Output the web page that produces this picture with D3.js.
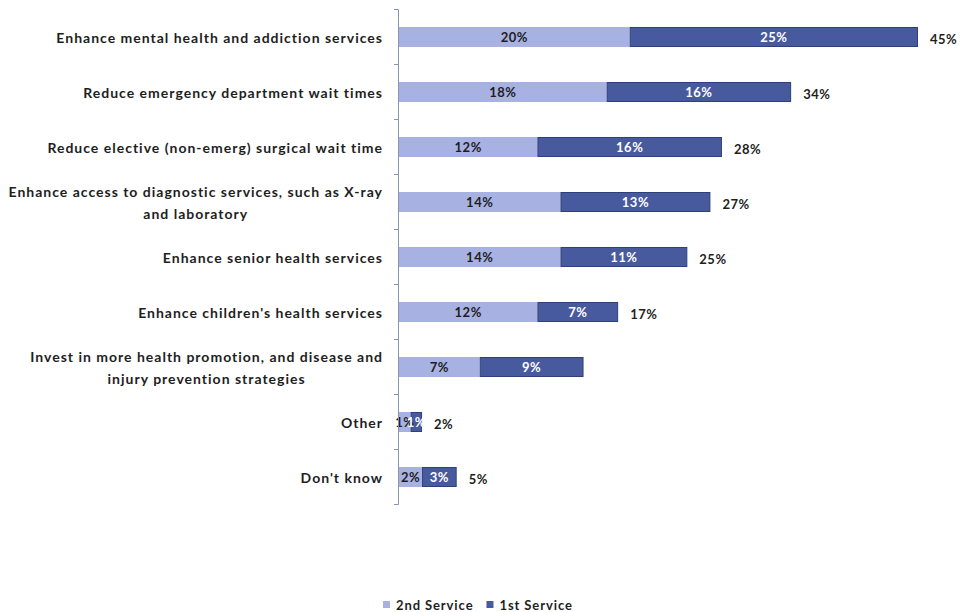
<!DOCTYPE html>
<html>
<head>
<meta charset="utf-8">
<script src="https://cdn.jsdelivr.net/npm/d3@7"></script>
<style>
  html, body { margin: 0; padding: 0; background: #fff; }
  svg { display: block; font-family: Lato, "Open Sans", sans-serif; }
</style>
</head>
<body>
<svg id="chart" width="960" height="612"></svg>
<script>
// Priority health services: share naming each as 2nd and 1st choice (%)
const categories = [
  ["Enhance mental health and addiction services"],
  ["Reduce emergency department wait times"],
  ["Reduce elective (non-emerg) surgical wait time"],
  ["Enhance access to diagnostic services, such as X-ray", "and laboratory"],
  ["Enhance senior health services"],
  ["Enhance children's health services"],
  ["Invest in more health promotion, and disease and", "injury prevention strategies"],
  ["Other"],
  ["Don't know"]
];
const secondService = [20, 18, 12, 14, 14, 12, 7, 1, 2];
const firstService  = [25, 16, 16, 13, 11, 7, 9, 1, 3];
const totals        = [45, 34, 28, 27, 25, 17, null, 2, 5];
const seriesNames   = ["2nd Service", "1st Service"];

const colors = { second: "#a7b1e2", first: "#485a9e", firstEdge: "#2f3f7c", text: "#1e1e1e" };

const svg = d3.select("#chart");
const x0 = 399;

const x = d3.scaleLinear().domain([0, 45]).range([x0, 918]);
const y = d3.scaleBand()
  .domain(d3.range(categories.length))
  .range([9.5, 9.5 + 55 * categories.length])
  .paddingInner(35 / 55)
  .paddingOuter(35 / 110);

const rows = categories.map((c, i) => ({
  i, label: c, a: secondService[i], b: firstService[i], total: totals[i]
}));

// Light segments (2nd Service)
svg.append("g").selectAll("rect").data(rows).join("rect")
  .attr("x", d => x(0))
  .attr("y", d => y(d.i))
  .attr("width", d => x(d.a) - x(0))
  .attr("height", y.bandwidth())
  .attr("fill", colors.second);

// Dark segments (1st Service)
svg.append("g").selectAll("rect").data(rows).join("rect")
  .attr("x", d => x(d.a) + 0.5)
  .attr("y", d => y(d.i) + 0.5)
  .attr("width", d => x(d.a + d.b) - x(d.a) - 1)
  .attr("height", y.bandwidth() - 1)
  .attr("fill", colors.first)
  .attr("stroke", colors.firstEdge)
  .attr("stroke-width", 1);

const cy = d => y(d.i) + y.bandwidth() / 2;

// Segment value labels
const seg = svg.append("g").attr("font-size", 13).attr("font-weight", 700)
  .attr("letter-spacing", 0.5)
  .attr("text-anchor", "middle").attr("dominant-baseline", "central");
seg.selectAll("text.a").data(rows).join("text").attr("class", "a")
  .attr("x", d => (x(0) + x(d.a)) / 2)
  .attr("y", cy)
  .attr("fill", colors.text)
  .text(d => d.a + "%");
seg.selectAll("text.b").data(rows).join("text").attr("class", "b")
  .attr("x", d => (x(d.a) + x(d.a + d.b)) / 2)
  .attr("y", cy)
  .attr("fill", "#fff")
  .text(d => d.b + "%");

// Totals to the right of each bar
svg.append("g").attr("font-size", 13).attr("font-weight", 700)
  .attr("letter-spacing", 0.5)
  .attr("dominant-baseline", "central").attr("fill", colors.text)
  .selectAll("text").data(rows.filter(d => d.total != null)).join("text")
  .attr("x", d => x(d.a + d.b) + 12)
  .attr("y", d => cy(d) + 2)
  .text(d => d.total + "%");

// Category axis line with ticks between bands
const axis = svg.append("g").attr("stroke", "#8b93ad").attr("stroke-width", 1);
axis.append("line")
  .attr("x1", x0 - 0.5).attr("x2", x0 - 0.5)
  .attr("y1", y.range()[0]).attr("y2", y.range()[1]);
axis.selectAll("line.tick").data(d3.range(categories.length + 1)).join("line")
  .attr("class", "tick")
  .attr("x1", x0 - 5).attr("x2", x0 - 0.5)
  .attr("y1", k => y.range()[0] + y.step() * k)
  .attr("y2", k => y.range()[0] + y.step() * k);

// Category labels: multi-line labels are centred on one another, right edge at the axis
const labels = svg.append("g").attr("font-size", 14).attr("font-weight", 700)
  .attr("letter-spacing", 1).attr("fill", colors.text);
rows.forEach(d => {
  const g = labels.append("g");
  const n = d.label.length;
  const lines = g.selectAll("text").data(d.label).join("text")
    .attr("dominant-baseline", "central")
    .attr("text-anchor", "middle")
    .attr("y", (t, j) => cy(d) + (j - (n - 1) / 2) * 22)
    .text(t => t);
  const widths = lines.nodes().map(nd => nd.getComputedTextLength());
  const w = d3.max(widths);
  lines.attr("x", 383 - w / 2);
});

// Legend
const legendItems = [
  { name: seriesNames[0], color: colors.second },
  { name: seriesNames[1], color: colors.first }
];
const legend = svg.append("g").attr("font-size", 13).attr("font-weight", 700)
  .attr("letter-spacing", 0.9).attr("fill", colors.text);
let lx = 383;
legendItems.forEach(item => {
  legend.append("rect").attr("x", lx).attr("y", 601).attr("width", 7).attr("height", 7).attr("fill", item.color);
  const t = legend.append("text").attr("x", lx + 13).attr("y", 605)
    .attr("dominant-baseline", "central").text(item.name);
  lx += 13 + t.node().getComputedTextLength() + 13;
});
</script>
</body>
</html>
